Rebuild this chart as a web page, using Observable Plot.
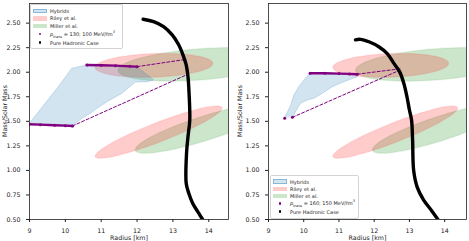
<!DOCTYPE html>
<html><head><meta charset="utf-8">
<script src="https://cdn.jsdelivr.net/npm/d3@7"></script>
<script src="https://cdn.jsdelivr.net/npm/@observablehq/plot@0.6"></script>
<style>
body{margin:0;background:#fff;font-family:"DejaVu Sans",sans-serif;}
#wrap{position:relative;width:469px;height:241px;overflow:hidden;}
.panel{position:absolute;top:0;}
.leg{position:absolute;background:rgba(255,255,255,0.85);border:0.6px solid #d3d3d3;border-radius:2px;font-size:5px;color:#222;}
.row{position:absolute;left:0;display:flex;align-items:center;height:6px;white-space:nowrap;}
.patch{width:14px;height:4.5px;margin-left:2px;margin-right:3px;box-sizing:border-box;}
.dotc{width:14px;margin-left:2px;margin-right:3px;display:flex;justify-content:center;}
.dot{width:2.6px;height:2.6px;border-radius:50%;}
.ylab{position:absolute;width:80px;height:8px;line-height:8px;text-align:center;font-size:6.3px;color:#222;white-space:nowrap;transform:rotate(-90deg);transform-origin:40px 4px;}
</style></head>
<body><div id="wrap"></div>
<script>
// ---------- data ----------
const xTicks = [9, 10, 11, 12, 13, 14];
const yTicks = [0.5, 0.75, 1.0, 1.25, 1.5, 1.75, 2.0, 2.25, 2.5];
const xLabel = "Radius [km]", yLabel = "Mass/Solar Mass";

// Observational ellipses: centre, half major-axis vector, vertical half-width (km, Msun)
const rileyCx = [12.47, 12.6],  rileyCy = [2.07, 1.39],  rileyAx = [1.64, 1.77], rileyAy = [0.02, 0.245], rileyB = [0.12, 0.105];
const millerCx = [13.75, 13.9], millerCy = [2.08, 1.43], millerAx = [2.28, 1.95], millerAy = [0.06, 0.22], millerB = [0.16, 0.13];

// Left panel (p_trans = 130; 100)
const leftHadR = [12.17, 12.46, 12.74, 12.98, 13.16, 13.28, 13.37, 13.42, 13.45, 13.47, 13.42, 13.38, 13.37, 13.44, 13.55, 13.72, 13.83];
const leftHadM = [2.54, 2.516, 2.465, 2.38, 2.28, 2.177, 2.075, 1.955, 1.786, 1.513, 1.343, 1.177, 0.87, 0.77, 0.666, 0.564, 0.50];
const leftHybR = [8.9, 9.0, 9.77, 10.18, 10.60, 11.3, 12.0, 12.46, 12.28, 11.95, 11.58, 11.16, 10.88, 10.70, 10.46, 10.23, 9.0, 8.9];
const leftHybM = [1.47, 1.483, 1.837, 2.041, 2.074, 2.068, 2.057, 1.92, 1.904, 1.90, 1.786, 1.70, 1.633, 1.582, 1.531, 1.462, 1.465, 1.47];
const leftUpR = [10.6, 11.0, 11.4, 11.8, 12.0], leftUpM = [2.074, 2.071, 2.067, 2.06, 2.057];
const leftLoR = [8.9, 9.3, 9.7, 10.0, 10.2], leftLoM = [1.472, 1.466, 1.46, 1.456, 1.453];
const leftDashR = [[12.0, 13.35], [10.2, 13.42]], leftDashM = [[2.057, 2.13], [1.453, 1.98]];

// Right panel (p_trans = 160; 150)
const rightHadR = [11.47, 11.61, 11.85, 12.13, 12.37, 12.56, 12.72, 12.84, 12.93, 13.0, 13.06, 13.09, 13.12, 13.22, 13.40, 13.62, 13.81];
const rightHadM = [2.33, 2.335, 2.31, 2.26, 2.19, 2.09, 2.006, 1.888, 1.75, 1.615, 1.513, 1.31, 1.0, 0.83, 0.70, 0.595, 0.50];
const rightHybR = [9.46, 9.63, 9.72, 9.86, 10.05, 10.18, 10.8, 11.52, 11.52, 11.14, 10.81, 10.53, 10.29, 10.10, 9.91, 9.82, 9.72, 9.68];
const rightHybM = [1.537, 1.666, 1.768, 1.853, 1.94, 1.99, 1.988, 1.98, 1.955, 1.904, 1.853, 1.786, 1.735, 1.717, 1.684, 1.633, 1.564, 1.541];
const rightUpR = [10.18, 10.6, 11.0, 11.3, 11.52], rightUpM = [1.99, 1.989, 1.986, 1.983, 1.98];
const rightLoR = [9.46, 9.68], rightLoM = [1.531, 1.541];
const rightDashR = [[11.52, 12.74], [9.68, 12.72]], rightDashM = [[1.98, 2.035], [1.541, 2.02]];

const legendLabels = ["Hybrids", "Riley et al.", "Miller et al.", "ptrans", "Pure Hadronic Case"];
const ptransLeft = "130; 100", ptransRight = "160; 150";

// ---------- helpers ----------
function ellipse(cx, cy, ax, ay, b, group) {
  const pts = [];
  for (let i = 0; i <= 72; i++) {
    const t = i / 72 * 2 * Math.PI;
    pts.push({x: cx + ax * Math.cos(t), y: cy + ay * Math.cos(t) + b * Math.sin(t), g: group});
  }
  return pts;
}
const zip = (R, M) => R.map((r, i) => ({x: r, y: M[i]}));
const rileyPts = rileyCx.flatMap((c, i) => ellipse(c, rileyCy[i], rileyAx[i], rileyAy[i], rileyB[i], i));
const millerPts = millerCx.flatMap((c, i) => ellipse(c, millerCy[i], millerAx[i], millerAy[i], millerB[i], i));

function panel(cfg) {
  const dash = cfg.dashR.flatMap((r, i) => r.map((v, j) => ({x: v, y: cfg.dashM[i][j], g: i})));
  const up = zip(cfg.upR, cfg.upM), lo = zip(cfg.loR, cfg.loM);
  return Plot.plot({
    width: 234, height: 241,
    marginLeft: cfg.ml, marginRight: cfg.mr, marginTop: 3, marginBottom: 22,
    style: {fontFamily: "DejaVu Sans", fontSize: "6.3px", color: "#222", background: "transparent"},
    x: {domain: cfg.xdom, ticks: xTicks, tickFormat: d => String(d), tickSize: 3, label: xLabel, labelAnchor: "center", labelArrow: "none", labelOffset: 20},
    y: {domain: [0.5, 2.7], ticks: yTicks, tickFormat: ".2f", tickSize: 3, label: null},
    marks: [
      Plot.line(millerPts, {x: "x", y: "y", z: "g", fill: "green", fillOpacity: 0.2, stroke: "green", strokeOpacity: 0.08, clip: true}),
      Plot.line(rileyPts, {x: "x", y: "y", z: "g", fill: "red", fillOpacity: 0.2, stroke: "red", strokeOpacity: 0.08, clip: true}),
      Plot.line(zip(cfg.hybR, cfg.hybM), {x: "x", y: "y", fill: "#1f77b4", fillOpacity: 0.2, stroke: "#1f77b4", strokeOpacity: 0.35, strokeWidth: 0.6, clip: true}),
      Plot.line(dash, {x: "x", y: "y", z: "g", stroke: "purple", strokeWidth: 1, strokeDasharray: "3,2", clip: true}),
      Plot.line(zip(cfg.hadR, cfg.hadM), {x: "x", y: "y", stroke: "black", strokeWidth: 3.4, curve: "catmull-rom", clip: true}),
      Plot.line(up, {x: "x", y: "y", stroke: "purple", strokeWidth: 2.4, clip: true}),
      cfg.loLine ? Plot.line(lo, {x: "x", y: "y", stroke: "purple", strokeWidth: 2.4, clip: true}) : null,
      Plot.dot(up.concat(lo), {x: "x", y: "y", fill: "purple", r: 1.5, clip: true}),
      Plot.frame({stroke: "#222", strokeWidth: 0.8})
    ]
  });
}

function legend(left, top, w, h, rows, ptxt) {
  const d = document.createElement("div");
  d.className = "leg";
  Object.assign(d.style, {left: left + "px", top: top + "px", width: w + "px", height: h + "px"});
  const sw = [
    '<div class="patch" style="background:rgba(31,119,180,0.2);border:0.5px solid rgba(31,119,180,0.4)"></div>',
    '<div class="patch" style="background:rgba(255,0,0,0.2)"></div>',
    '<div class="patch" style="background:rgba(0,128,0,0.2)"></div>',
    '<div class="dotc"><div class="dot" style="background:purple"></div></div>',
    '<div class="dotc"><div class="dot" style="background:black"></div></div>'
  ];
  legendLabels.forEach((lab, i) => {
    const r = document.createElement("div");
    r.className = "row";
    r.style.top = (rows[i] - top - 3) + "px";
    const txt = lab === "ptrans"
      ? '<span><i>p</i><sub style="font-size:3.5px">trans</sub> = ' + ptxt + ' MeV/fm<sup style="font-size:3.5px">3</sup></span>'
      : '<span>' + lab + '</span>';
    r.innerHTML = sw[i] + txt;
    d.appendChild(r);
  });
  return d;
}
function ylabel(cx, cy) {
  const d = document.createElement("div");
  d.className = "ylab";
  d.style.left = (cx - 40) + "px"; d.style.top = (cy - 4) + "px";
  d.textContent = yLabel;
  return d;
}

const wrap = document.getElementById("wrap");
const p1 = panel({xdom: [9, 14.55], ml: 29, mr: 6, loLine: true, hadR: leftHadR, hadM: leftHadM, hybR: leftHybR, hybM: leftHybM, upR: leftUpR, upM: leftUpM, loR: leftLoR, loM: leftLoM, dashR: leftDashR, dashM: leftDashM});
const p2 = panel({xdom: [9, 14.62], ml: 33, mr: 3, loLine: false, hadR: rightHadR, hadM: rightHadM, hybR: rightHybR, hybM: rightHybM, upR: rightUpR, upM: rightUpM, loR: rightLoR, loM: rightLoM, dashR: rightDashR, dashM: rightDashM});
const a = document.createElement("div"); a.className = "panel"; a.style.left = "0px"; a.appendChild(p1); wrap.appendChild(a);
const b = document.createElement("div"); b.className = "panel"; b.style.left = "235px"; b.appendChild(p2); wrap.appendChild(b);
wrap.appendChild(ylabel(5, 111));
wrap.appendChild(ylabel(240, 111));
wrap.appendChild(legend(30, 4, 91, 43, [9.8, 17.3, 25, 33.2, 41.5], ptransLeft));
wrap.appendChild(legend(270, 175, 87, 42, [180.7, 187.9, 195.2, 202.6, 210.6], ptransRight));
</script></body></html>
